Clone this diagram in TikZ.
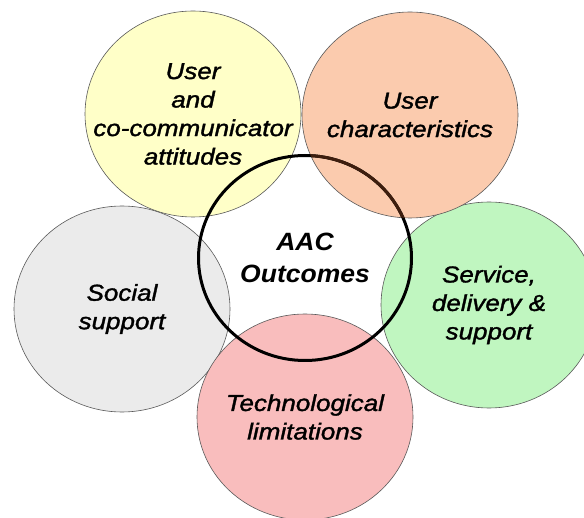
\documentclass[tikz,border=0pt]{standalone}
\usepackage{fontspec}
\setmainfont{Liberation Sans}[FakeStretch=1.06]
\newfontfamily\labelfont{Liberation Sans}[FakeStretch=1.13, FakeBold=1.5]
\usetikzlibrary{shapes.geometric}
\definecolor{attitudecol}{RGB}{255,255,200}
\definecolor{usercol}{RGB}{251,203,174}
\definecolor{socialcol}{RGB}{235,235,235}
\definecolor{servicecol}{RGB}{192,246,192}
\definecolor{techcol}{RGB}{249,189,189}
\definecolor{ringbrown}{RGB}{62,30,14}
\begin{document}
\begin{tikzpicture}[x=1pt,y=-1pt,
        bubble/.style={ellipse, draw=black!65, line width=0.6pt, inner sep=0pt,
            minimum width=216pt, minimum height=206pt},
        ring/.style={ellipse, draw=black, line width=3pt, inner sep=0pt,
            minimum width=213pt, minimum height=205pt},
        caption/.style={align=center, font=\labelfont\fontsize{23}{28.5}\selectfont\itshape}]
    \clip (0,0) rectangle (584,518);
    \fill[white] (0,0) rectangle (584,518);
    \foreach \nm/\x/\y/\col in {social/122/309/socialcol, service/489/305/servicecol,
            attitude/193/114/attitudecol, tech/305/417/techcol, user/410/115/usercol} {
        \node[bubble, fill=\col] (\nm) at (\x,\y) {};
    }
    \node[ring] (aac) at (305,258) {};
    \begin{scope}
        \clip (410,115) ellipse [x radius=108pt, y radius=103pt];
        \draw[ringbrown, line width=3pt] (305,258) ellipse [x radius=106.5pt, y radius=102.5pt];
    \end{scope}
    \node[caption] (attitude-t) at (attitude) {User\\and\\co-communicator\\attitudes};
    \node[caption] (user-t) at (user) {User\\characteristics};
    \node[caption] (social-t) at (social) {Social\\support};
    \node[caption] (service-t) at (service) {Service,\\delivery \&\\support};
    \node[caption] (tech-t) at (tech) {Technological\\limitations};
    \node[caption, font=\fontsize{25}{32}\selectfont\bfseries\itshape] (aac-t) at (aac) {AAC\\Outcomes};
\end{tikzpicture}
\end{document}
